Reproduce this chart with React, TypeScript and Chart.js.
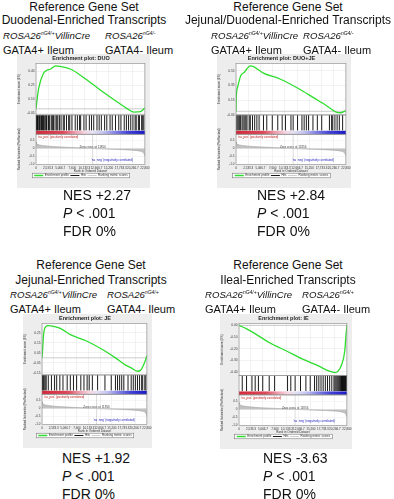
import React, { useEffect, useRef } from "react";
import { Chart, registerables } from "chart.js";
Chart.register(...registerables);

const FONT = '"Liberation Sans", Arial, Helvetica, sans-serif';

// shared ranked list (same comparison in all four plots)
const N_RANKS = 22800;
const ZERO_CROSS = 11856;
const metRank = [0, 0.003, 0.01, 0.03, 0.06, 0.1, 0.15, 0.2, 0.3, 0.4, 0.5, 0.52, 0.6, 0.7, 0.8, 0.88, 0.93, 0.96, 0.98, 0.99, 1];
const metValue = [0.42, 0.34, 0.28, 0.23, 0.19, 0.16, 0.13, 0.11, 0.075, 0.045, 0.01, 0, -0.02, -0.045, -0.07, -0.1, -0.13, -0.17, -0.22, -0.3, -0.45];

// DUO
const duoRank = [0, 0.005, 0.025, 0.07, 0.1, 0.13, 0.18, 0.22, 0.32, 0.44, 0.59, 0.75, 0.84, 0.9, 0.96, 0.99, 1];
const duoES = [0, 0.05, 0.22, 0.38, 0.41, 0.42, 0.455, 0.45, 0.42, 0.33, 0.2, 0.07, 0, -0.035, -0.03, 0, 0.01];
const duoHits = [0, 0.005, 0.01, 0.015, 0.02, 0.03, 0.035, 0.045, 0.05, 0.06, 0.07, 0.075, 0.085, 0.095, 0.1, 0.115, 0.125, 0.14, 0.15, 0.16, 0.175, 0.19, 0.2, 0.215, 0.23, 0.25, 0.26, 0.28, 0.3, 0.31, 0.33, 0.36, 0.38, 0.4, 0.41, 0.44, 0.46, 0.49, 0.51, 0.53, 0.56, 0.58, 0.6, 0.63, 0.65, 0.68, 0.7, 0.73, 0.76, 0.78, 0.81, 0.83, 0.85, 0.87, 0.89, 0.91, 0.92, 0.94, 0.95, 0.97, 0.98, 0.99];

// DUO+JE
const djRank = [0, 0.002, 0.015, 0.045, 0.075, 0.1, 0.13, 0.16, 0.2, 0.25, 0.4, 0.58, 0.7, 0.82, 0.91, 0.955, 0.985, 1];
const djES = [0, 0.17, 0.33, 0.49, 0.53, 0.58, 0.62, 0.61, 0.57, 0.52, 0.44, 0.3, 0.19, 0.08, -0.01, -0.02, 0, 0.01];
const djHits = [0, 0.01, 0.02, 0.03, 0.04, 0.055, 0.065, 0.08, 0.09, 0.1, 0.12, 0.13, 0.15, 0.17, 0.19, 0.21, 0.25, 0.28, 0.33, 0.38, 0.42, 0.45, 0.5, 0.52, 0.56, 0.6, 0.62, 0.64, 0.66, 0.7, 0.74, 0.78, 0.85, 0.87, 0.88, 0.9, 0.92, 0.94, 0.97];

// JE
const jeRank = [0, 0.004, 0.015, 0.036, 0.06, 0.12, 0.18, 0.27, 0.42, 0.58, 0.7, 0.79, 0.85, 0.91, 0.94, 0.97, 1];
const jeES = [0, 0.05, 0.23, 0.31, 0.32, 0.31, 0.29, 0.23, 0.17, 0.08, 0, -0.067, -0.1, -0.133, -0.123, -0.067, 0.02];
const jeHits = [0, 0.006, 0.012, 0.02, 0.03, 0.04, 0.06, 0.09, 0.12, 0.14, 0.17, 0.2, 0.24, 0.27, 0.3, 0.33, 0.37, 0.4, 0.43, 0.45, 0.48, 0.53, 0.6, 0.66, 0.7, 0.72, 0.74, 0.76, 0.78, 0.82, 0.85, 0.87, 0.89, 0.91, 0.93, 0.95, 0.96, 0.98, 0.99];

// IE
const ieRank = [0, 0.07, 0.13, 0.28, 0.44, 0.59, 0.74, 0.83, 0.89, 0.92, 0.95, 0.98, 0.99, 1];
const ieES = [0, -0.03, -0.06, -0.147, -0.22, -0.29, -0.35, -0.39, -0.405, -0.39, -0.34, -0.22, -0.1, 0];
const ieHits = [0.03, 0.07, 0.12, 0.15, 0.18, 0.22, 0.28, 0.33, 0.45, 0.48, 0.52, 0.57, 0.62, 0.66, 0.7, 0.72, 0.74, 0.76, 0.78, 0.8, 0.82, 0.84, 0.86, 0.88, 0.89, 0.9, 0.91, 0.92, 0.93, 0.94, 0.95, 0.955, 0.96, 0.965, 0.97, 0.975, 0.98, 0.985, 0.99, 0.995];

type P = {
  name: string; rank: number[]; es: number[]; hits: number[];
  esMin: number; esMax: number; esStep: number;
  left: number; top: number; w: number; h: number;
};

const gseaPlugin = {
  id: "gsea",
  beforeDraw(chart: any) {
    const { ctx, chartArea } = chart;
    ctx.save();
    ctx.fillStyle = "#ededed";
    ctx.fillRect(0, 0, chart.width, chart.height);
    ctx.fillStyle = "#ffffff";
    ctx.fillRect(chartArea.left, chartArea.top, chartArea.right - chartArea.left, chartArea.bottom - chartArea.top);
    const lg = chart.legend;
    if (lg && lg.legendHitBoxes && lg.legendHitBoxes.length) {
      let l = Infinity, r = -Infinity, t = Infinity, b = -Infinity;
      for (const hb of lg.legendHitBoxes) {
        l = Math.min(l, hb.left); r = Math.max(r, hb.left + hb.width);
        t = Math.min(t, hb.top); b = Math.max(b, hb.top + hb.height);
      }
      ctx.fillRect(l - 2, t - 0.8, r - l + 4, b - t + 1.6);
      ctx.strokeStyle = "#666";
      ctx.lineWidth = 0.5;
      ctx.strokeRect(l - 2, t - 0.8, r - l + 4, b - t + 1.6);
    }
    ctx.restore();
  },
  beforeDatasetsDraw(chart: any) {
    const { ctx, chartArea, scales } = chart;
    const y0 = scales.yHit.getPixelForValue(0.18);
    const y1 = scales.yHit.getPixelForValue(0);
    const g = ctx.createLinearGradient(chartArea.left, 0, chartArea.right, 0);
    g.addColorStop(0, "#d3283a");
    g.addColorStop(0.25, "#dc4a5a");
    g.addColorStop(0.36, "#eea0b0");
    g.addColorStop(0.45, "#f6d6e0");
    g.addColorStop(0.52, "#e6e2f4");
    g.addColorStop(0.62, "#c4c4f0");
    g.addColorStop(0.72, "#8888e6");
    g.addColorStop(0.85, "#4242d6");
    g.addColorStop(1, "#1818c8");
    ctx.save();
    ctx.fillStyle = g;
    ctx.fillRect(chartArea.left, y0, chartArea.right - chartArea.left, y1 - y0);
    ctx.restore();
  },
  afterDatasetsDraw(chart: any) {
    const { ctx, chartArea, scales } = chart;
    ctx.save();
    ctx.strokeStyle = "#8a8a8a";
    ctx.lineWidth = 0.6;
    for (const id of ["yES", "yHit", "yMet"]) {
      const s = scales[id];
      ctx.strokeRect(chartArea.left, s.top, chartArea.right - chartArea.left, s.bottom - s.top);
    }
    const m = scales.yMet;
    ctx.font = `3px ${FONT}`;
    ctx.textBaseline = "top";
    ctx.fillStyle = "#c01818";
    ctx.textAlign = "left";
    ctx.fillText("'na_pos' (positively correlated)", chartArea.left + 2, m.top + 1.5);
    ctx.fillStyle = "#2020c0";
    ctx.textAlign = "right";
    ctx.textBaseline = "bottom";
    ctx.fillText("'na_neg' (negatively correlated)", chartArea.right - 12, m.bottom - 3);
    ctx.fillStyle = "#444";
    ctx.textAlign = "center";
    ctx.textBaseline = "middle";
    ctx.fillText(`Zero cross at ${ZERO_CROSS}`, scales.x.getPixelForValue(ZERO_CROSS), m.getPixelForValue(0) - 1);
    ctx.restore();
  },
};

function Gsea({ p }: { p: P }) {
  const ref = useRef<HTMLCanvasElement>(null);
  useEffect(() => {
    const pts = (xs: number[], ys: number[]) => xs.map((f, i) => ({ x: f * N_RANKS, y: ys[i] }));
    const hitData: any[] = [];
    p.hits.forEach((f) => {
      hitData.push({ x: f * N_RANKS, y: 0.2 }, { x: f * N_RANKS, y: 1 }, { x: f * N_RANKS, y: null });
    });
    const yW = (s: any) => { s.width = 19; };
    const tickFont = { size: 3, family: FONT };
    const chart = new Chart(ref.current as HTMLCanvasElement, {
      type: "line",
      data: {
        datasets: [
          { label: "Enrichment profile", data: pts(p.rank, p.es), yAxisID: "yES", borderColor: "#2ede2e", borderWidth: 1.3, pointRadius: 0, cubicInterpolationMode: "monotone" } as any,
          { label: "zero", data: [{ x: 0, y: 0 }, { x: N_RANKS, y: 0 }], yAxisID: "yES", borderColor: "#b4b4b4", borderWidth: 0.7, pointRadius: 0 },
          { label: "Hits", data: hitData, yAxisID: "yHit", borderColor: "#000000", borderWidth: 0.9, pointRadius: 0, spanGaps: false },
          { label: "zc", data: [{ x: ZERO_CROSS, y: -1 }, { x: ZERO_CROSS, y: 0.9 }], yAxisID: "yMet", borderColor: "#bbbbbb", borderWidth: 0.5, pointRadius: 0 },
          { label: "Ranking metric scores", data: pts(metRank, metValue), yAxisID: "yMet", borderColor: "#9a9a9a", backgroundColor: "#c2c2c2", fill: "origin", borderWidth: 0.5, pointRadius: 0 },
        ],
      },
      options: {
        animation: false,
        responsive: false,
        devicePixelRatio: 1,
        layout: { padding: { left: 0, right: 5, top: 0, bottom: 1 } },
        plugins: {
          title: { display: true, text: `Enrichment plot: ${p.name}`, color: "#222", font: { size: 5.5, weight: "bold", family: FONT }, padding: { top: 1.5, bottom: 1.5 } },
          legend: {
            position: "bottom",
            labels: {
              filter: (it: any) => ["Enrichment profile", "Hits", "Ranking metric scores"].includes(it.text),
              usePointStyle: true, pointStyle: "line", pointStyleWidth: 9, boxHeight: 3,
              font: { size: 3, family: FONT }, color: "#333", padding: 1.5,
            },
          },
          tooltip: { enabled: false },
        },
        scales: {
          x: {
            type: "linear", min: 0, max: N_RANKS,
            ticks: { stepSize: 2500, font: tickFont, color: "#333", padding: 0.5, maxRotation: 0, autoSkip: false, includeBounds: false },
            grid: { color: "#e4e4e4", lineWidth: 0.5, tickLength: 1 },
            border: { display: false },
            title: { display: true, text: "Rank in Ordered Dataset", font: tickFont, color: "#333", padding: { top: 0.5, bottom: 0 } },
            afterFit: (s: any) => { s.height = 8; },
          },
          yES: {
            type: "linear", position: "left", stack: "g", stackWeight: 56, weight: 3,
            min: p.esMin, max: p.esMax,
            ticks: { stepSize: p.esStep, font: { size: 3.2, family: FONT }, color: "#333", padding: 0.5, includeBounds: false, callback: (v: any) => Number(v).toFixed(2) },
            grid: { color: "#e4e4e4", lineWidth: 0.5, tickLength: 1 },
            border: { display: false },
            title: { display: true, text: "Enrichment score (ES)", font: tickFont, color: "#333", padding: 0 },
            afterFit: yW,
          },
          yHit: {
            type: "linear", position: "left", stack: "g", stackWeight: 21, weight: 2,
            min: 0, max: 1,
            ticks: { display: false },
            grid: { display: false },
            border: { display: false },
            afterFit: yW,
          },
          yMet: {
            type: "linear", position: "left", stack: "g", stackWeight: 33, weight: 1,
            min: -1, max: 0.9,
            ticks: { stepSize: 0.25, font: tickFont, color: "#333", padding: 0.5, includeBounds: false },
            grid: { color: "#ececec", lineWidth: 0.5, tickLength: 1 },
            border: { display: false },
            title: { display: true, text: "Ranked list metric (PreRanked)", font: tickFont, color: "#333", padding: 0 },
            afterFit: yW,
          },
        },
      } as any,
      plugins: [gseaPlugin],
    });
    return () => chart.destroy();
  }, []);
  return (
    <canvas ref={ref} width={p.w} height={p.h} style={{ position: "absolute", left: p.left, top: p.top, width: p.w, height: p.h }} />
  );
}

function T({ x, y, size, italic, center, children }: any) {
  return (
    <div style={{
      position: "absolute", left: center ? x - 150 : x, top: y - size * 0.5, width: center ? 300 : undefined,
      textAlign: center ? "center" : "left", fontSize: size, lineHeight: 1, fontFamily: FONT,
      fontStyle: italic ? "italic" : "normal", whiteSpace: "nowrap", color: "#111",
    }}>{children}</div>
  );
}

const Sup = ({ children }: any) => (
  <span style={{ fontSize: 5, position: "relative", top: -4 }}>{children}</span>
);

function Block({ cx, yTitle, title2, gx1, gx2, yGeno, sup1, sup2, nesX, yNes, nes, plot }: any) {
  return (
    <>
      <T x={cx} y={yTitle} size={12} center>Reference Gene Set</T>
      <T x={cx} y={yTitle + (yGeno > 100 ? 15 : 13)} size={12} center>{title2}</T>
      <T x={gx1} y={yGeno} size={9.6} italic>ROSA26<Sup>{sup1}</Sup>VillinCre</T>
      <T x={gx2} y={yGeno} size={9.6} italic>ROSA26<Sup>{sup2}</Sup></T>
      <T x={gx1} y={yGeno + 14} size={11}>GATA4+ Ileum</T>
      <T x={gx2} y={yGeno + 14} size={11}>GATA4- Ileum</T>
      <Gsea p={plot} />
      <T x={nesX} y={yNes} size={14}>{nes}</T>
      <T x={nesX} y={yNes + 18} size={14}><i>P</i> &lt; .001</T>
      <T x={nesX} y={yNes + 36} size={14}>FDR 0%</T>
    </>
  );
}

export default function App() {
  return (
    <div style={{ position: "absolute", left: 0, top: 0, width: 394, height: 499, background: "#fff", overflow: "hidden" }}>
      <Block cx={84} yTitle={7} title2="Duodenal-Enriched Transcripts" gx1={3} gx2={105} yGeno={36} sup1="nG4/+" sup2="nG4/-"
        nesX={63} yNes={195} nes="NES +2.27"
        plot={{ name: "DUO", rank: duoRank, es: duoES, hits: duoHits, esMin: -0.065, esMax: 0.48, esStep: 0.05, left: 17, top: 54, w: 133, h: 134 }} />
      <Block cx={288} yTitle={7} title2="Jejunal/Duodenal-Enriched Transcripts" gx1={211} gx2={303} yGeno={36} sup1="nG4/+" sup2="nG4/-"
        nesX={257} yNes={195} nes="NES +2.84"
        plot={{ name: "DUO+JE", rank: djRank, es: djES, hits: djHits, esMin: -0.05, esMax: 0.65, esStep: 0.1, left: 217, top: 54, w: 134, h: 134 }} />
      <Block cx={91} yTitle={265} title2="Jejunal-Enriched Transcripts" gx1={10} gx2={107} yGeno={295} sup1="nG4/+" sup2="nG4/+"
        nesX={62} yNes={458} nes="NES +1.92"
        plot={{ name: "JE", rank: jeRank, es: jeES, hits: jeHits, esMin: -0.17, esMax: 0.34, esStep: 0.05, left: 23, top: 314, w: 129, h: 134 }} />
      <Block cx={288} yTitle={265} title2="Ileal-Enriched Transcripts" gx1={205} gx2={302} yGeno={295} sup1="nG4/+" sup2="nG4/+"
        nesX={263} yNes={458} nes="NES -3.63"
        plot={{ name: "IE", rank: ieRank, es: ieES, hits: ieHits, esMin: -0.43, esMax: 0.015, esStep: 0.05, left: 220, top: 314, w: 132, h: 135 }} />
    </div>
  );
}
